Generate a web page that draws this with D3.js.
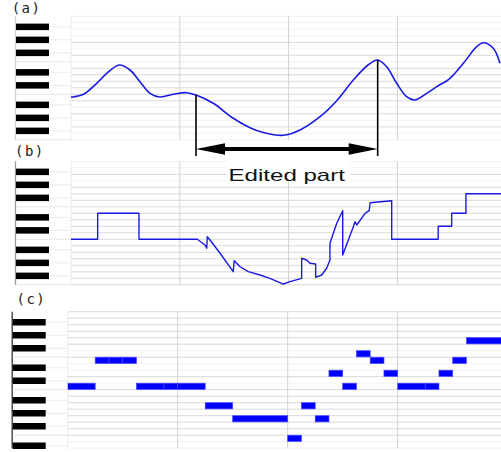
<!DOCTYPE html>
<html><head><meta charset="utf-8">
<script src="https://cdn.jsdelivr.net/npm/d3@7"></script>
<style>html,body{margin:0;padding:0;background:#fff;} svg{display:block;}</style>
</head><body>
<script>
// ---------- data ----------
const panelLabels = ["(a)", "(b)", "(c)"];
const annotationText = "Edited part";
const editedRange = [9.19, 22.55];     // time (16th-note units) of edited segment
const barLines = [8, 16, 24];

// (a) smooth pitch curve: [time, pitch]
const pitchCurveA = [
  [0,59.04],[0.9,59.5],[1.89,61.19],[2.63,62.73],[3.55,64.01],[4.34,63.24],[5.07,61.44],
  [5.81,59.65],[6.54,59.08],[7.52,59.5],[8.51,59.75],[9.19,59.39],[10.46,58.12],[11.93,55.81],
  [13.16,54.36],[14.14,53.62],[15.61,53.19],[16.84,54.01],[18.31,56.05],[19.54,58.52],
  [20.76,61.7],[21.84,64.01],[22.55,64.78],[23.21,63.75],[23.95,61.19],[24.68,59.13],
  [25.29,58.62],[26.15,59.65],[26.89,60.67],[27.87,61.96],[28.85,64.27],[29.83,66.82],
  [30.32,67.44],[31.05,66.58],[31.54,64.27]
];

// (b) edited pitch curve: [time, pitch]
const pitchCurveB = [
  [0,59.5],[1.96,59.5],[1.96,63.5],[5.0,63.5],[5.0,59.5],[9.29,59.5],[9.85,58.62],[9.98,58.12],
  [10.02,59.9],[10.22,59.39],[10.96,57.35],[11.93,54.52],[12.0,56.21],[12.43,55.28],[13.04,54.52],
  [13.9,54.01],[14.63,53.5],[15.61,52.62],[16.1,52.98],[16.96,53.5],[16.96,56.58],[17.32,56.32],
  [17.57,55.81],[17.99,55.7],[17.99,53.65],[18.43,54.01],[18.8,55.04],[19.04,56.32],[19.04,58.88],
  [19.54,61.96],[19.98,63.9],[19.98,57.08],[20.76,61.44],[20.88,62.21],[21.01,61.7],[21.62,63.5],
  [21.93,63.9],[21.99,65.13],[23.58,65.44],[23.58,59.5],[27.0,59.5],[27.0,61.5],[27.99,61.5],
  [27.99,63.5],[29.04,63.5],[29.04,66.5],[31.7,66.5]
];

// (c) notes: [start, duration, MIDI pitch]
const notesC = [
  [0,2,60],[2,1,64],[3,1,64],[4,1,64],[5,2,60],[7,1,60],[8,2,60],[10,2,57],[12,4,55],
  [16,1,52],[17,1,57],[18,1,55],[19,1,62],[20,1,60],[21,1,65],[22,1,64],[23,1,62],
  [24,2,60],[26,1,60],[27,1,62],[28,1,64],[29,3,67]
];

// grid-line boundary indices drawn strongly in each panel
const gridA = [4,6,8,9,10,11,12,13,15,17];
const gridB = [2,4,5,6,7,8,9,10,11,12,13,14,15,16,17,18,19];
const gridC = [0,1,2,3,4,5,7,10,12,13,14,15,16,17,18,19];

// ---------- drawing ----------
const W = 501, H = 452, LANE = 6.5, TOP_PITCH = 71;
const svg = d3.select("body").append("svg").attr("width", W).attr("height", H);

const panels = [
  {label: panelLabels[0], lx: 11.7, ly: 13, top: 16.3, lanes: 19, keyX: 16, keyW: 33, plotX: 71, unit: 13.6, border: "#d0d0d0", grid: gridA},
  {label: panelLabels[1], lx: 15, ly: 155.5, top: 161.3, lanes: 19, keyX: 16, keyW: 33, plotX: 71, unit: 13.6, border: "#9a9a9a", grid: gridB},
  {label: panelLabels[2], lx: 16.5, ly: 304.3, top: 311.7, lanes: 21, keyX: 12.7, keyW: 33, plotX: 67.7, unit: 13.75, border: "#333", grid: gridC}
];

const isBlack = p => [1,3,6,8,10].includes(((p % 12) + 12) % 12);

panels.forEach((P, i) => {
  const bottom = P.top + P.lanes * LANE;
  P.y = d3.scaleLinear().domain([TOP_PITCH + 0.5, TOP_PITCH + 0.5 - P.lanes]).range([P.top, bottom]);
  P.x = d3.scaleLinear().domain([0, 32]).range([P.plotX, P.plotX + 32 * P.unit]);
  const g = svg.append("g");
  const pitches = d3.range(TOP_PITCH, TOP_PITCH - P.lanes, -1);

  // horizontal lane lines
  d3.range(0, P.lanes + 1).forEach(k => {
    const yy = P.y(TOP_PITCH + 0.5 - k);
    const strong = P.grid.includes(k);
    g.append("line").attr("x1", P.plotX).attr("x2", W).attr("y1", yy).attr("y2", yy)
      .attr("stroke", strong ? "#d9d9d9" : "#f2f2f2").attr("stroke-width", 1);
  });
  // vertical bar lines
  barLines.forEach(t => {
    g.append("line").attr("x1", P.x(t)).attr("x2", P.x(t)).attr("y1", P.top).attr("y2", bottom)
      .attr("stroke", "#d2d2d2").attr("stroke-width", 1);
  });
  g.append("line").attr("x1", P.plotX).attr("x2", P.plotX).attr("y1", P.top).attr("y2", bottom)
    .attr("stroke", "#ebebeb");

  // keyboard
  g.append("line").attr("x1", P.keyX - 0.5).attr("x2", P.keyX - 0.5).attr("y1", P.top).attr("y2", bottom)
    .attr("stroke", P.border).attr("stroke-width", 1.3);
  pitches.forEach(p => {
    const pc = ((p % 12) + 12) % 12;
    if (pc === 5 || pc === 0) {
      const yy = P.y(p - 0.5);
      g.append("line").attr("x1", P.keyX).attr("x2", P.plotX).attr("y1", yy).attr("y2", yy)
        .attr("stroke", "#e6e6e6");
    }
    if (isBlack(p)) {
      const yy = P.y(p);
      g.append("line").attr("x1", P.keyX + P.keyW).attr("x2", P.plotX).attr("y1", yy + 0.8).attr("y2", yy + 0.8)
        .attr("stroke", "#ececec");
      g.append("rect").attr("x", P.keyX).attr("y", P.y(p + 0.5) + 0.8)
        .attr("width", P.keyW).attr("height", LANE).attr("fill", "#000");
    }
  });

  // panel label
  svg.append("text").attr("x", P.lx).attr("y", P.ly).text(P.label)
    .attr("font-family", "DejaVu Sans Mono, monospace").attr("font-size", 14)
    .attr("letter-spacing", 1.5).attr("fill", "#222");

  // clip
  svg.append("clipPath").attr("id", "clip" + i).append("rect")
    .attr("x", P.plotX).attr("y", P.top - 2).attr("width", W - P.plotX).attr("height", bottom - P.top + 4);
});

// (a) smooth curve
const A = panels[0], B = panels[1], C = panels[2];
svg.append("path").datum(pitchCurveA)
  .attr("clip-path", "url(#clip0)")
  .attr("d", d3.line().x(d => A.x(d[0])).y(d => A.y(d[1])).curve(d3.curveCatmullRom.alpha(0.5)))
  .attr("fill", "none").attr("stroke", "#1a1ae6").attr("stroke-width", 1.6);

// (b) edited curve
svg.append("path").datum(pitchCurveB)
  .attr("clip-path", "url(#clip1)")
  .attr("d", d3.line().x(d => B.x(d[0])).y(d => B.y(d[1])))
  .attr("fill", "none").attr("stroke", "#1a1ae6").attr("stroke-width", 1.4)
  .attr("stroke-linejoin", "round");

// (c) notes
svg.append("g").attr("clip-path", "url(#clip2)").selectAll("rect").data(notesC).join("rect")
  .attr("x", d => C.x(d[0])).attr("width", d => C.x(d[0] + d[1]) - C.x(d[0]))
  .attr("y", d => C.y(d[2] + 0.5)).attr("height", LANE - 0.3)
  .attr("fill", "#0000ff").attr("stroke", "#4545ff").attr("stroke-width", 0.7);

// edited-part annotation
const interp = t => {
  const i = d3.bisector(d => d[0]).left(pitchCurveA, t);
  if (i <= 0) return pitchCurveA[0][1];
  const a = pitchCurveA[i - 1], b = pitchCurveA[i];
  return a[1] + (b[1] - a[1]) * (t - a[0]) / (b[0] - a[0]);
};
const ex1 = A.x(editedRange[0]), ex2 = A.x(editedRange[1]);
const arrowY = 149, lineBottom = 156;
const ann = svg.append("g");
[editedRange[0], editedRange[1]].forEach(t => {
  ann.append("line").attr("x1", A.x(t)).attr("x2", A.x(t))
    .attr("y1", A.y(interp(t))).attr("y2", lineBottom)
    .attr("stroke", "#000").attr("stroke-width", 1.6);
});
const headL = 29, headH = 5.8;
ann.append("line").attr("x1", ex1 + headL - 2).attr("x2", ex2 - headL + 2)
  .attr("y1", arrowY).attr("y2", arrowY).attr("stroke", "#000").attr("stroke-width", 4);
ann.append("polygon")
  .attr("points", [[ex1, arrowY], [ex1 + headL, arrowY - headH], [ex1 + headL, arrowY + headH]].map(p => p.join(",")).join(" "))
  .attr("fill", "#000");
ann.append("polygon")
  .attr("points", [[ex2, arrowY], [ex2 - headL, arrowY - headH], [ex2 - headL, arrowY + headH]].map(p => p.join(",")).join(" "))
  .attr("fill", "#000");

ann.append("rect").attr("x", 226.5).attr("y", 159).attr("width", 123.5).attr("height", 22.5).attr("fill", "#fff");
ann.append("text").attr("x", 228.5).attr("y", 181).text(annotationText)
  .attr("font-family", "Liberation Sans, Arial, sans-serif").attr("font-size", 17)
  .attr("textLength", 116.5).attr("lengthAdjust", "spacingAndGlyphs").attr("fill", "#111");
</script>
</body></html>
